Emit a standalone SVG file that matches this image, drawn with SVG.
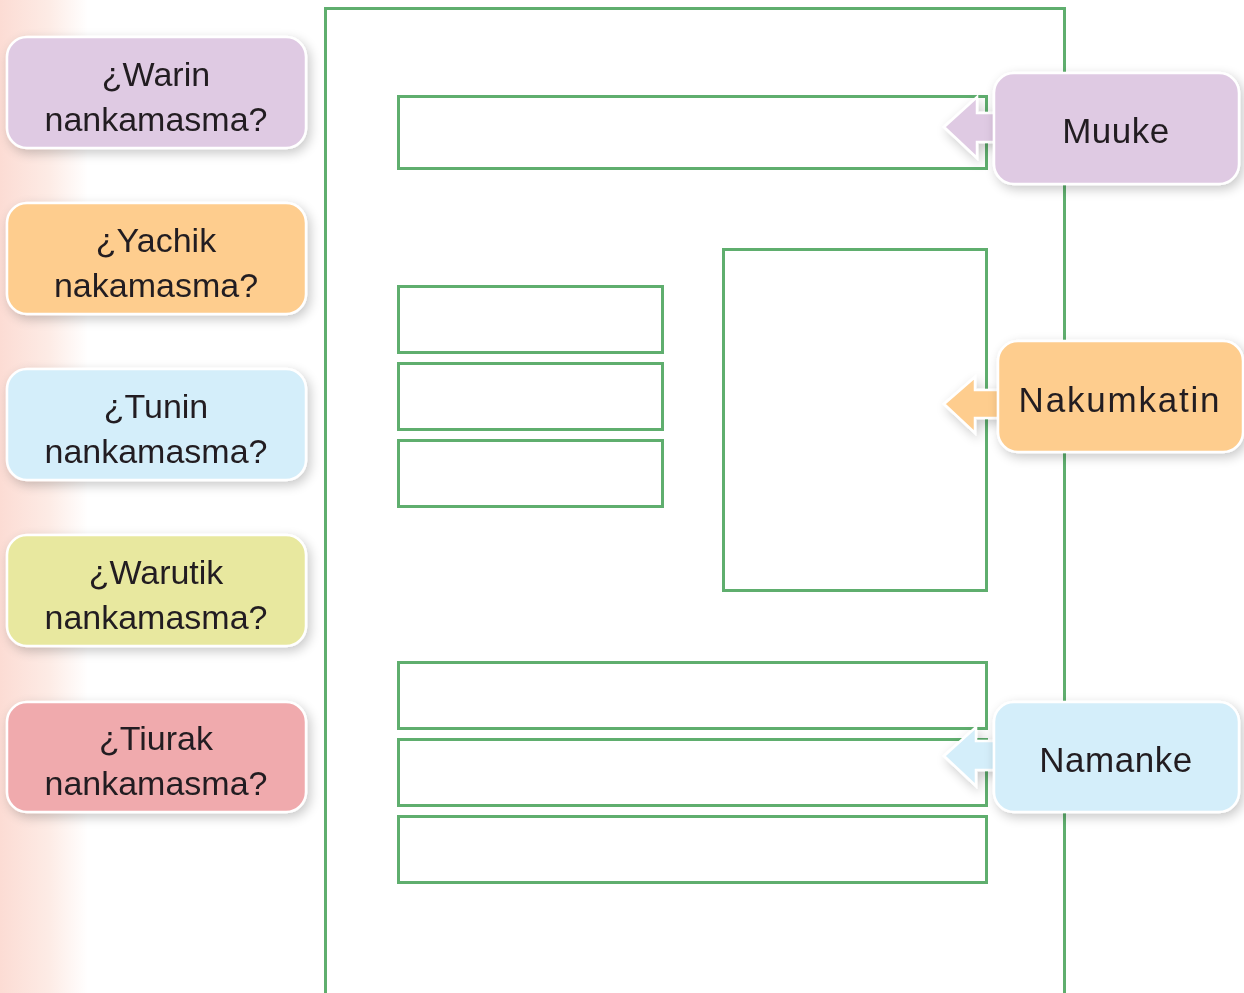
<svg xmlns="http://www.w3.org/2000/svg" width="1244" height="993" viewBox="0 0 1244 993">
<defs>
<linearGradient id="strip" x1="0" y1="0" x2="1" y2="0">
<stop offset="0" stop-color="#fcdcd4"/>
<stop offset="0.55" stop-color="#fdebe5"/>
<stop offset="1" stop-color="#ffffff"/>
</linearGradient>
<filter id="sh" x="-20%" y="-30%" width="140%" height="160%">
<feGaussianBlur in="SourceAlpha" stdDeviation="6"/>
<feOffset dx="3" dy="4" result="b"/>
<feComponentTransfer><feFuncA type="linear" slope="0.22"/></feComponentTransfer>
<feMerge><feMergeNode/><feMergeNode in="SourceGraphic"/></feMerge>
</filter>
<style>
.fr{fill:none;stroke:#5fae6e;stroke-width:3}
.bx{stroke:#ffffff;stroke-width:2.5}
.t{font-family:"Liberation Sans",Arial,sans-serif;font-size:34px;fill:#231f20;text-anchor:middle}
.r{font-size:35px;letter-spacing:0.5px}
.ar{stroke:#ffffff;stroke-width:2.5;stroke-linejoin:miter}
</style>
</defs>
<rect width="1244" height="993" fill="#ffffff"/>
<rect x="0" y="0" width="88" height="993" fill="url(#strip)"/>

<g id="frame">
<rect class="fr" x="325.5" y="8.5" width="739" height="990"/>
<rect class="fr" x="398.5" y="96.5" width="588" height="72"/>
<rect class="fr" x="398.5" y="286.5" width="264" height="66"/>
<rect class="fr" x="398.5" y="363.5" width="264" height="66"/>
<rect class="fr" x="398.5" y="440.5" width="264" height="66"/>
<rect class="fr" x="723.5" y="249.5" width="263" height="341"/>
<rect class="fr" x="398.5" y="662.5" width="588" height="66"/>
<rect class="fr" x="398.5" y="739.5" width="588" height="66"/>
<rect class="fr" x="398.5" y="816.5" width="588" height="66"/>
</g>

<g id="q1" filter="url(#sh)">
<rect class="bx" x="7" y="37" width="299" height="111" rx="20" fill="#dfcae3"/>
<text class="t" x="156" y="86">¿Warin</text>
<text class="t" x="156" y="131">nankamasma?</text>
</g>
<g id="q2" filter="url(#sh)">
<rect class="bx" x="7" y="203" width="299" height="111" rx="20" fill="#fecd8e"/>
<text class="t" x="156" y="252">¿Yachik</text>
<text class="t" x="156" y="297">nakamasma?</text>
</g>
<g id="q3" filter="url(#sh)">
<rect class="bx" x="7" y="369" width="299" height="111" rx="20" fill="#d4eefa"/>
<text class="t" x="156" y="418">¿Tunin</text>
<text class="t" x="156" y="463">nankamasma?</text>
</g>
<g id="q4" filter="url(#sh)">
<rect class="bx" x="7" y="535" width="299" height="111" rx="20" fill="#e8e89f"/>
<text class="t" x="156" y="584">¿Warutik</text>
<text class="t" x="156" y="629">nankamasma?</text>
</g>
<g id="q5" filter="url(#sh)">
<rect class="bx" x="7" y="702" width="299" height="110" rx="20" fill="#f0aaad"/>
<text class="t" x="156" y="750">¿Tiurak</text>
<text class="t" x="156" y="795">nankamasma?</text>
</g>

<g id="connectors">
<polygon class="ar" filter="url(#sh)" fill="#dfcae3" points="944,127 977,97 977,113 998,113 998,142 977,142 977,158"/>
<polygon class="ar" filter="url(#sh)" fill="#fecd8e" points="944,404 975,377 975,390 1002,390 1002,418 975,418 975,433"/>
<polygon class="ar" filter="url(#sh)" fill="#d4eefa" points="944,756 976,727 976,741 998,741 998,770 976,770 976,786"/>
</g>

<g id="muuke" filter="url(#sh)">
<rect class="bx" x="994" y="73" width="245" height="111" rx="20" fill="#dfcae3"/>
<text class="t r" x="1116" y="143">Muuke</text>
</g>
<g id="nakumkatin" filter="url(#sh)">
<rect class="bx" x="998" y="341" width="245" height="111" rx="20" fill="#fecd8e"/>
<text class="t r" x="1120" y="412" style="letter-spacing:1.8px">Nakumkatin</text>
</g>
<g id="namanke" filter="url(#sh)">
<rect class="bx" x="994" y="702" width="245" height="110" rx="20" fill="#d4eefa"/>
<text class="t r" x="1116" y="772">Namanke</text>
</g>
</svg>
